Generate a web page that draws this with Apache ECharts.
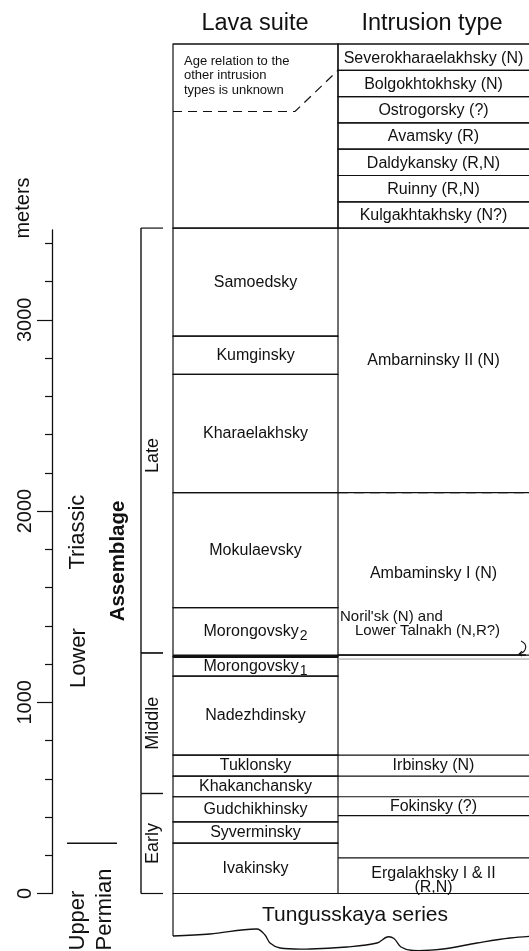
<!DOCTYPE html>
<html>
<head>
<meta charset="utf-8">
<script src="https://cdn.jsdelivr.net/npm/echarts@6/dist/echarts.min.js"></script>
<style>
html,body{margin:0;padding:0;background:#fff;}
#chart{width:529px;height:951px;}
</style>
</head>
<body>
<div id="chart"></div>
<script>
// ---------------- DATA ----------------
const columnHeaders = ['Lava suite', 'Intrusion type'];
const axisName = 'meters';
const axisMajorTicks = [0, 1000, 2000, 3000];
const axisMinorTicks = [200, 400, 600, 800, 1200, 1400, 1600, 1800, 2200, 2400, 2600, 2800, 3200, 3400];

const lavaSuites = ['Ivakinsky', 'Syverminsky', 'Gudchikhinsky', 'Khakanchansky', 'Tuklonsky', 'Nadezhdinsky',
  'Morongovsky1', 'Morongovsky2', 'Mokulaevsky', 'Kharaelakhsky', 'Kumginsky', 'Samoedsky'];
const lavaBaseM = [0, 263, 375, 506, 614, 724, 1137, 1240, 1495, 2096, 2715, 2915];
const lavaTopM  = [263, 375, 506, 614, 724, 1137, 1240, 1495, 2096, 2715, 2915, 3480];

const intrusionTypes = ['Ergalakhsky I & II\n(R,N)', 'Fokinsky (?)', 'Irbinsky (N)', 'Ambaminsky I (N)', 'Ambarninsky II (N)'];
const intrusionBaseM = [0, 407, 614, 1247, 2096];
const intrusionTopM  = [186, 506, 724, 2096, 3480];
const intrusionBaseKnown = [true, true, true, true, false];

const hostedIntrusion = ["Noril'sk (N) and", 'Lower Talnakh (N,R?)'];
const hostedRangeM = [1247, 1495];

const undatedIntrusions = ['Severokharaelakhsky (N)', 'Bolgokhtokhsky (N)', 'Ostrogorsky (?)', 'Avamsky (R)',
  'Daldykansky (R,N)', 'Ruinny (R,N)', 'Kulgakhtakhsky (N?)'];
const undatedNote = ['Age relation to the', 'other intrusion', 'types is unknown'];

const assemblageTitle = 'Assemblage';
const assemblages = ['Early', 'Middle', 'Late'];
const assemblageBaseM = [0, 523, 1258];
const assemblageTopM  = [523, 1258, 3480];

const basement = 'Tungusskaya series';
const periods = [['Upper', 'Permian'], ['Lower', 'Triassic']];
const periodBoundaryM = 263;

// ---------------- LAYOUT / STYLE ----------------
const FONT = '"Liberation Sans", Arial, Helvetica, sans-serif';
const INK = '#111';
const LW = 1.2;
const Y_ZERO = 893.5, Y_AXIS_TOP = 230, Y_TABLE_TOP = 44;
const AXIS_MAX_M = 3470;
const PX_PER_M = (Y_ZERO - Y_AXIS_TOP) / AXIS_MAX_M;
const TABLE_TOP_M = (Y_ZERO - Y_TABLE_TOP) / PX_PER_M;
const X = { brk0: 141, brk1: 163, lava0: 173, lava1: 338, right: 545 };
const LABEL_POS = { lowerM: 1231, triassicM: 1890, assemblageM: 1739, periodX: 79, permianX: 105, assemblageX: 118.5, brkLabelX: 153 };
const BRK_LABEL_DY = [0, 0, 15];

function hline(api, m, x0, x1, extra) {
  const a = api.coord([x0, m]), b = api.coord([x1, m]);
  return { type: 'line', shape: { x1: a[0], y1: a[1], x2: b[0], y2: b[1] },
    style: Object.assign({ stroke: INK, lineWidth: LW }, extra || {}) };
}
function vline(api, x, m0, m1, extra) {
  const a = api.coord([x, m0]), b = api.coord([x, m1]);
  return { type: 'line', shape: { x1: a[0], y1: a[1], x2: b[0], y2: b[1] },
    style: Object.assign({ stroke: INK, lineWidth: LW }, extra || {}) };
}
function txt(text, x, y, opts) {
  return { type: 'text', style: Object.assign({ text: text, x: x, y: y, fill: INK, fontSize: 16, fontFamily: FONT,
    align: 'center', verticalAlign: 'middle' }, opts || {}) };
}
function rtxt(text, x, y, opts) {
  return { type: 'text', x: x, y: y, rotation: Math.PI / 2, style: Object.assign({ text: text, x: 0, y: 0, fill: INK,
    fontSize: 20, fontFamily: FONT, align: 'center', verticalAlign: 'middle' }, opts || {}) };
}
function subscriptLabel(name) {
  const m = name.match(/^(.*?)(\d)$/);
  return m ? m[1] + '{s|' + m[2] + '}' : name;
}

const gridTable = { xAxisIndex: 1, yAxisIndex: 2, coordinateSystem: 'cartesian2d', silent: true };

const option = {
  animation: false,
  backgroundColor: '#fff',
  grid: [
    { left: 52, top: Y_AXIS_TOP, width: 20, height: Y_ZERO - Y_AXIS_TOP, outerBoundsMode: 'none' },
    { left: 0, right: 0, top: Y_TABLE_TOP, height: Y_ZERO - Y_TABLE_TOP, outerBoundsMode: 'none' }
  ],
  xAxis: [
    { gridIndex: 0, type: 'value', min: 0, max: 1, show: false },
    { gridIndex: 1, type: 'value', min: 0, max: 529, show: false }
  ],
  yAxis: [
    { gridIndex: 0, type: 'value', min: 0, max: AXIS_MAX_M, position: 'left',
      axisLine: { show: true, lineStyle: { color: INK, width: 1.3 } },
      axisTick: { show: true, customValues: axisMinorTicks, length: 7, lineStyle: { color: INK, width: 1.2 } },
      axisLabel: { show: false }, splitLine: { show: false } },
    { gridIndex: 0, type: 'value', min: 0, max: AXIS_MAX_M, position: 'left', offset: 0,
      axisLine: { show: false },
      axisTick: { show: true, customValues: axisMajorTicks, length: 15, lineStyle: { color: INK, width: 1.2 } },
      axisLabel: { show: true, customValues: axisMajorTicks, rotate: 90, margin: 17, fontSize: 20,
        fontFamily: FONT, color: INK, formatter: v => String(v) },
      splitLine: { show: false } },
    { gridIndex: 1, type: 'value', min: 0, max: TABLE_TOP_M, show: false }
  ],
  graphic: [
    { type: 'text', style: { text: columnHeaders[0], x: 255, y: 24, fill: INK, fontSize: 23.5, fontFamily: FONT, align: 'center', verticalAlign: 'middle' } },
    { type: 'text', style: { text: columnHeaders[1], x: 432, y: 24, fill: INK, fontSize: 23.5, fontFamily: FONT, align: 'center', verticalAlign: 'middle' } },
    { type: 'text', x: 23.5, y: 208, rotation: Math.PI / 2, style: { text: axisName, x: 0, y: 0, fill: INK, fontSize: 20, fontFamily: FONT, align: 'center', verticalAlign: 'middle' } }
  ],
  series: [
    // Lava suites
    Object.assign({
      type: 'custom', name: 'lava',
      data: lavaSuites.map((n, i) => [0, lavaBaseM[i], lavaTopM[i], i]),
      encode: { x: 0, y: [1, 2] },
      renderItem: (params, api) => {
        const i = api.value(3);
        const tl = api.coord([X.lava0, api.value(2)]);
        const br = api.coord([X.lava1, api.value(1)]);
        return { type: 'group', children: [
          { type: 'rect', shape: { x: tl[0], y: tl[1], width: br[0] - tl[0], height: br[1] - tl[1] },
            style: { fill: 'none', stroke: INK, lineWidth: LW } },
          txt(subscriptLabel(lavaSuites[i]), (tl[0] + br[0]) / 2, (tl[1] + br[1]) / 2,
            { rich: { s: { fontSize: 14, fontFamily: FONT, fill: INK, padding: [9, 0, 0, 1] } } })
        ] };
      }
    }, gridTable),
    // Dated intrusion types
    Object.assign({
      type: 'custom', name: 'intrusions',
      data: intrusionTypes.map((n, i) => [0, intrusionBaseM[i], intrusionTopM[i], i]),
      encode: { x: 0, y: [1, 2] },
      renderItem: (params, api) => {
        const i = api.value(3);
        const t = api.value(2), b = api.value(1);
        const pt = api.coord([X.lava1, t]), pb = api.coord([X.lava1, b]);
        const cx = api.coord([(X.lava1 + 529) / 2, 0])[0];
        const multi = intrusionTypes[i].indexOf('\n') >= 0;
        return { type: 'group', children: [
          hline(api, t, X.lava1, X.right),
          hline(api, b, X.lava1, X.right, intrusionBaseKnown[i] ? {} : { lineDash: [10, 6] }),
          multi ? txt(intrusionTypes[i], cx, pb[1] + 1, { lineHeight: 14, verticalAlign: 'bottom' })
                : txt(intrusionTypes[i], cx, (pt[1] + pb[1]) / 2)
        ] };
      }
    }, gridTable),
    // Noril'sk / Lower Talnakh hosted intrusion
    Object.assign({
      type: 'custom', name: 'hosted',
      data: [[0, hostedRangeM[0], hostedRangeM[1]]],
      encode: { x: 0, y: [1, 2] },
      renderItem: (params, api) => {
        const b = api.value(1), t = api.value(2);
        const pb = api.coord([X.lava0, b]), pt = api.coord([X.lava1, t]);
        const xr = api.coord([X.lava1, b])[0];
        const ay = pb[1];
        return { type: 'group', children: [
          { type: 'rect', shape: { x: pb[0], y: ay - 0.6, width: xr - pb[0], height: 3.6 }, style: { fill: INK } },
          hline(api, b, X.lava1, 526, { lineWidth: 1.5 }),
          { type: 'line', shape: { x1: xr, y1: ay + 4, x2: X.right, y2: ay + 4 }, style: { stroke: '#999', lineWidth: 1 } },
          txt(hostedIntrusion[0], xr + 2, pt[1] + 9, { align: 'left', fontSize: 15 }),
          txt(hostedIntrusion[1], xr + 17, pt[1] + 23, { align: 'left', fontSize: 15 }),
          { type: 'path', shape: { pathData: 'M521 ' + (ay - 14) + ' C528 ' + (ay - 11) + ' 527 ' + (ay - 3) + ' 519 ' + (ay - 1) },
            style: { fill: 'none', stroke: INK, lineWidth: 1.1 } },
          { type: 'polyline', shape: { points: [[522, ay - 4], [519, ay - 1], [522, ay + 1]] }, style: { fill: 'none', stroke: INK, lineWidth: 1.1 } }
        ] };
      }
    }, gridTable),
    // Top block: age relation unknown
    Object.assign({
      type: 'custom', name: 'unknown',
      data: [[0, lavaTopM[lavaTopM.length - 1], TABLE_TOP_M]],
      encode: { x: 0, y: [1, 2] },
      renderItem: (params, api) => {
        const tl = api.coord([X.lava0, api.value(2)]);
        const br = api.coord([X.lava1, api.value(1)]);
        const rowH = (api.value(2) - api.value(1)) / undatedIntrusions.length;
        const firstRowBase = api.coord([X.lava1, api.value(2) - rowH]);
        const ch = undatedNote.map((s, k) => txt(s, tl[0] + 11, tl[1] + 17 + k * 14.5, { align: 'left', fontSize: 13 }));
        ch.unshift({ type: 'rect', shape: { x: tl[0], y: tl[1], width: br[0] - tl[0], height: br[1] - tl[1] },
          style: { fill: 'none', stroke: INK, lineWidth: LW } });
        ch.push({ type: 'polyline', shape: { points: [[tl[0], tl[1] + 67.5], [tl[0] + 122, tl[1] + 67.5], firstRowBase] },
          style: { fill: 'none', stroke: INK, lineWidth: 1.2, lineDash: [9, 6] } });
        ch.push(hline(api, api.value(2), X.lava0, X.right));
        return { type: 'group', children: ch };
      }
    }, gridTable),
    // Undated intrusion rows
    Object.assign({
      type: 'custom', name: 'undated',
      data: undatedIntrusions.map((n, i) => [0, i]),
      renderItem: (params, api) => {
        const i = api.value(1);
        const top0 = lavaTopM[lavaTopM.length - 1];
        const rowH = (TABLE_TOP_M - top0) / undatedIntrusions.length;
        const t = TABLE_TOP_M - i * rowH, b = t - rowH;
        const tl = api.coord([X.lava1, t]), br = api.coord([X.right, b]);
        const cx = api.coord([(X.lava1 + 529) / 2, t])[0];
        return { type: 'group', children: [
          { type: 'rect', shape: { x: tl[0], y: tl[1], width: br[0] - tl[0], height: br[1] - tl[1] },
            style: { fill: 'none', stroke: INK, lineWidth: LW } },
          txt(undatedIntrusions[i], cx, (tl[1] + br[1]) / 2 + 1)
        ] };
      }
    }, gridTable),
    // Assemblage brackets
    Object.assign({
      type: 'custom', name: 'assemblage',
      data: assemblages.map((n, i) => [0, assemblageBaseM[i], assemblageTopM[i], i]),
      encode: { x: 0, y: [1, 2] },
      renderItem: (params, api) => {
        const i = api.value(3);
        const b = api.value(1), t = api.value(2);
        const yb = api.coord([0, b])[1], yt = api.coord([0, t])[1];
        return { type: 'group', children: [
          vline(api, X.brk0, b, t, { lineWidth: 1.4 }),
          hline(api, t, X.brk0, X.brk1),
          hline(api, b, X.brk0, X.brk1),
          rtxt(assemblages[i], LABEL_POS.brkLabelX, (yb + yt) / 2 + BRK_LABEL_DY[i], { fontSize: 18 })
        ] };
      }
    }, gridTable),
    // Basement
    Object.assign({
      type: 'custom', name: 'basement',
      data: [[0, 0]],
      renderItem: (params, api) => {
        const p = api.coord([X.lava0, api.value(1)]);
        const x0 = p[0], y0 = p[1];
        const wave = [[0, 42.5], [37, 40.5], [84, 35.5], [92, 41.5], [97, 49.5], [107, 54.5], [137, 55.5], [174, 53.5],
          [204, 49.5], [214, 43.5], [221, 45], [228, 53.5], [240, 57], [270, 55.5], [304, 49.5], [337, 44.5], [372, 42]];
        return { type: 'group', children: [
          hline(api, 0, X.lava0, X.right),
          { type: 'line', shape: { x1: x0, y1: y0, x2: x0, y2: y0 + 42.5 }, style: { stroke: INK, lineWidth: LW } },
          { type: 'polyline', shape: { points: wave.map(d => [x0 + d[0], y0 + d[1]]), smooth: 0.35 },
            style: { fill: 'none', stroke: INK, lineWidth: 1.3 } },
          txt(basement, x0 + 182, y0 + 21.5, { fontSize: 21 })
        ] };
      }
    }, gridTable),
    // Periods and assemblage title
    Object.assign({
      type: 'custom', name: 'periods',
      data: [[0, periodBoundaryM]],
      renderItem: (params, api) => {
        const yB = api.coord([0, api.value(1)])[1];
        const y0 = api.coord([0, 0])[1];
        const yLow = api.coord([0, LABEL_POS.lowerM])[1];
        const yTri = api.coord([0, LABEL_POS.triassicM])[1];
        const yAs = api.coord([0, LABEL_POS.assemblageM])[1];
        return { type: 'group', children: [
          { type: 'line', shape: { x1: 67, y1: yB, x2: 117, y2: yB }, style: { stroke: INK, lineWidth: 1.5 } },
          rtxt(periods[0][0], LABEL_POS.periodX - 1, y0 + 57, { align: 'left', fontSize: 22 }),
          rtxt(periods[0][1], LABEL_POS.permianX, y0 + 57, { align: 'left', fontSize: 22 }),
          rtxt(periods[1][0], LABEL_POS.periodX, yLow, { fontSize: 22 }),
          rtxt(periods[1][1], LABEL_POS.periodX - 1, yTri, { fontSize: 22 }),
          rtxt(assemblageTitle, LABEL_POS.assemblageX, yAs, { fontSize: 20.5, fontWeight: 'bold' })
        ] };
      }
    }, gridTable)
  ]
};

const chart = echarts.init(document.getElementById('chart'), null, { renderer: 'canvas' });
chart.setOption(option);
</script>
</body>
</html>
